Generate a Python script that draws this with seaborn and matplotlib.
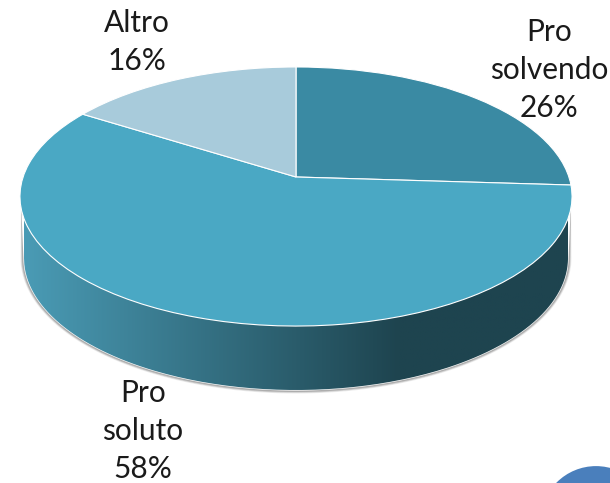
import numpy as np
import seaborn as sns
import matplotlib.pyplot as plt
from matplotlib.colors import LinearSegmentedColormap
from matplotlib.patches import Ellipse, PathPatch
from matplotlib.path import Path
from matplotlib.transforms import Transform

categories = ["Pro\nsolvendo", "Pro\nsoluto", "Altro"]
values = [26, 58, 16]
colors = sns.color_palette(["#3a8aa3", "#4aa8c4", "#a8cbdb"])

sns.set_theme(style="white")
plt.rcParams['font.family'] = ['Lato', 'DejaVu Sans']


# tilted disc: unit circle seen in perspective, apex is not the ellipse centre
class Tilt(Transform):
    input_dims = 2
    output_dims = 2

    def __init__(self, cx=296, cy=177, a=272.9, b=126.6, k=0.1506):
        super().__init__()
        self.cx, self.cy, self.a, self.b, self.k = cx, cy, a, b, k

    def transform_non_affine(self, xy):
        xy = np.asarray(xy, dtype=float)
        d = 1 + self.k * xy[:, 1]
        return np.column_stack([self.cx + self.a * xy[:, 0] / d, self.cy - self.b * xy[:, 1] / d])

    def transform_path_non_affine(self, path):
        return Path(self.transform_non_affine(path.vertices), path.codes)


fig = plt.figure(figsize=(6.1, 4.83), dpi=100)
ax = fig.add_axes([0, 0, 1, 1])

wedges, _ = ax.pie(values, colors=colors, startangle=90, counterclock=False,
                   wedgeprops=dict(edgecolor="white", linewidth=0.8, zorder=5))
for w in wedges:
    w.set_transform(Tilt() + ax.transData)
    w.set_clip_on(False)
ax.set_aspect('auto')

# side of the disc
t = np.linspace(np.pi, 2 * np.pi, 200)


def rim(a, b, cy=258):
    x = 296 + a * np.cos(t)
    y = cy - b * np.sin(t)
    return np.r_[[21], x, [571]], np.r_[[200], y, [200]]


for grow, al in [(3.5, 0.1), (2.8, 0.18), (2, 0.28)]:
    x, y = rim(272 + grow, 132 + grow)
    ax.fill(x, y, color="#555555", alpha=al, lw=0, zorder=1)
x, y = rim(272.6, 132.6)
ax.fill(x, y, color="white", lw=0, zorder=2)
x, y = rim(272, 132)
side = PathPatch(Path(np.column_stack([x, y])), transform=ax.transData, facecolor="none", lw=0)
ax.add_patch(side)
cmap = LinearSegmentedColormap.from_list("side", [(0, "#4a9bb5"), (0.69, "#1e444f"), (1, "#1e444f")])
im = ax.imshow(np.linspace(0, 1, 256)[None, :], cmap=cmap, extent=[24, 568, 400, 190],
               aspect='auto', zorder=3)
im.set_clip_path(side)

# corner logo circle
ax.add_patch(Ellipse((596, 521.6), 111, 111, facecolor="#4a7fbc", edgecolor="none", zorder=2))

label_pos = [(549, 70), (143, 431), (137, 42)]
for name, v, (px, py) in zip(categories, values, label_pos):
    ax.text(px, py, "{}\n{}%".format(name, v), ha="center", va="center", fontsize=21.5,
            color="#1a1a1a", linespacing=1.43, zorder=6)

ax.set_xlim(0, 610)
ax.set_ylim(483, 0)
ax.axis("off")
fig.savefig("out.png", dpi=100, facecolor="white")
